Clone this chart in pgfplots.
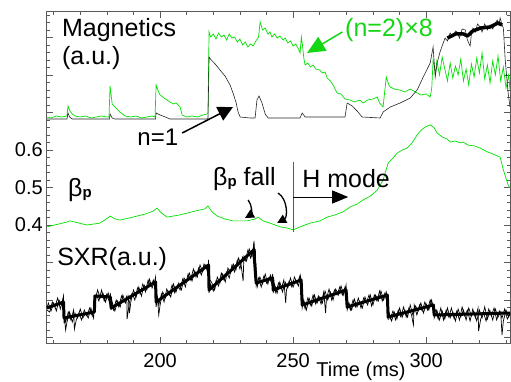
\documentclass[border=0pt]{standalone}
\usepackage{fontspec}
\setmainfont{Liberation Sans}
\usepackage{pgfplots}
\pgfplotsset{compat=1.18}
\usetikzlibrary{arrows.meta}
\definecolor{mgreen}{RGB}{0,225,0}
\definecolor{tgreen}{RGB}{20,215,20}
\definecolor{frame}{RGB}{90,90,90}
\newcommand{\ann}{\fontsize{25}{30}\selectfont}
\begin{document}
\begin{tikzpicture}[x=1pt,y=1pt]
\begin{axis}[
  at={(0,0)}, anchor=south west,
  scale only axis, width=463pt, height=331pt,
  xmin=157.5, xmax=331.5, ymin=0.0853, ymax=0.968,
  xtick={200,250,300},
  minor xtick={160,170,...,330},
  ytick={0.4,0.5,0.6},
  yticklabels={0.4,0.5,0.6},
  extra y ticks={0.1,0.2,0.3,0.7,0.8,0.9},
  extra y tick labels={},
  minor ytick={0.1,0.12,...,0.96},
  tick align=inside,
  major tick length=6pt, minor tick length=3pt,
  axis line style={frame, line width=1pt},
  tick style={frame, line width=0.7pt},
  tick label style={font=\fontsize{20}{24}\selectfont},
  /pgf/number format/assume math mode=true,
  xticklabel style={inner ysep=0pt, yshift=-10pt},
  yticklabel style={inner xsep=0pt, xshift=-4pt},
  clip=false,
]
% beta_p
\addplot[mgreen, line width=0.7pt] coordinates {
(157.5,0.395) (165.0,0.408) (166.1,0.411) (172.5,0.400) (177.4,0.405) (180.4,0.419)
(181.2,0.424) (183.1,0.416) (184.9,0.413) (189.8,0.421) (194.3,0.429) (197.4,0.437)
(198.9,0.445) (200.0,0.435) (202.6,0.421) (207.5,0.427) (213.1,0.437) (216.9,0.443)
(218.0,0.451) (219.5,0.435) (221.4,0.424) (224.4,0.416) (227.4,0.411) (232.7,0.411)
(235.7,0.416) (236.8,0.421) (238.7,0.411) (242.1,0.403) (245.1,0.395) (247.7,0.392)
(250.0,0.387) (252.6,0.395) (256.4,0.405) (260.1,0.411) (262.8,0.421) (265.8,0.427)
(268.8,0.435) (271.4,0.448) (274.1,0.456) (276.3,0.467) (279.0,0.477) (281.6,0.493)
(283.8,0.520) (285.7,0.565) (287.6,0.579) (289.1,0.592) (291.0,0.600) (292.8,0.605)
(294.7,0.619) (296.6,0.640) (298.1,0.653) (299.6,0.661) (301.5,0.667) (303.0,0.659)
(304.1,0.645) (306.0,0.635) (307.9,0.629) (309.0,0.621) (310.9,0.624) (312.8,0.619)
(313.9,0.621) (315.8,0.613) (318.1,0.611) (320.3,0.605) (323.0,0.595) (325.2,0.589)
(327.8,0.581) (329.0,0.547) (330.8,0.507) (331.5,0.499)
};
\end{axis}

\begin{axis}[
  at={(0,0)}, anchor=south west,
  scale only axis, width=463pt, height=331pt,
  xmin=157.5, xmax=331.5, ymin=0, ymax=331,
  hide axis, clip=false,
]
% magnetics n=2 (x8)
\addplot[mgreen, line width=0.7pt] coordinates {
(157.5,226) (159,225) (161,227) (163,226) (165,227) (165.4,237) (166.1,232) (167,229)
(168,227) (170,226) (172,227) (174,225) (176,226) (178,227) (180,226) (180.8,226)
(181.2,257) (182,239) (183.4,235) (184.9,231) (186.8,227) (189,226) (191,227) (193,225)
(195,226) (197,227) (198.1,226) (198.5,258) (199.3,252) (200,248) (202,244) (203.7,241)
(205,239) (206,240) (207.5,236) (208.3,228) (210,226) (212,227) (214,226) (216,228)
(217.6,229) (218,230) (218.4,311) (219,306) (220,309) (221,304) (222,310) (223,306)
(224,308) (225,303) (226,309) (227,305) (228,306) (229,301) (230,304) (231,298)
(232,301) (233,296) (234,299) (235,297) (236,302) (237,306) (237.6,321) (238.5,313)
(239.5,315) (240.5,309) (241.3,311) (242,306) (243,309) (244,305) (245,307) (246.2,303)
(247,305) (248,300) (249,302) (250,297) (251,299) (252,294) (252.6,290) (253.1,306)
(253.5,298) (254,285) (254.5,278) (255.5,280) (256.5,276) (257.5,278) (258.5,274)
(260,273) (261,270) (262,271) (262.8,265) (264,262) (265,258) (266.5,250) (268,249)
(269.5,244) (271.4,243) (273,241) (275,243) (276.3,240) (278,243) (280,244) (281.6,246)
(282.5,240) (283.8,236) (285,266) (286,258) (286.5,256) (288,254) (290,253) (292,251)
(294,254) (296.6,250) (298,248) (300,249) (301.5,246) (302.1,255) (302.6,283) (303.5,270)
(304,282) (305,268) (306,286) (307,274) (308,262) (309,280) (310,265) (311,277)
(312,268) (313,284) (314,262) (315,274) (316,258) (317,279) (318,266) (319,285)
(320,270) (321,290) (322,264) (323,278) (324,260) (325,282) (326,268) (327,287)
(328,262) (329,276) (330,255) (331,268) (331.5,253)
};
% magnetics n=1
\addplot[black!85, line width=0.6pt] coordinates {
(157.5,224) (165,224) (165.4,230) (166,226) (167,224) (181,224) (181.2,229) (182,225)
(183,224) (198.3,224) (198.5,230) (200,228) (202,226) (203.7,224) (218,224) (218.4,286)
(219.2,283) (220.7,279) (222.5,273) (224.4,267) (226.3,258) (227.4,250) (228.6,240)
(229.3,231) (230.1,226) (233.8,225) (235.7,225) (236.4,243) (237.2,247) (238.3,240)
(239.5,229) (240.6,225) (252.6,225) (253.4,230) (254.5,226) (269.5,226) (270.3,240)
(272.2,237) (274.4,231) (275.9,226) (282.7,225) (283.8,231) (286.5,236) (290.2,240)
(294,245) (296.6,253) (298.9,266) (301.5,280) (302.6,296) (303.4,266) (304.1,280)
(305.2,291) (306,297) (307.1,305) (308,302) (309,310) (310,306) (311,312) (311.6,311)
(312.5,305) (313.5,314) (314.7,313) (315.5,303) (316.5,297) (317,309) (317.6,315)
(318.5,311) (319.3,319) (320.3,316) (321,311) (322,319) (323,313) (324,318) (325,314)
(326,320) (326.7,323) (327.3,318) (327.8,325) (328.4,319) (329,315) (329.7,283)
(330.8,250) (331.5,236)
};
% magnetics n=1, dense core of the noisy band
\addplot[black, line width=3.5pt, line join=round] coordinates {
(308,305) (311,309) (314,309) (315.5,307) (317.5,312) (320.5,315) (324,316) (327,320) (328.5,318)
};
% SXR core
\addplot[black, line width=3pt, line join=round] coordinates {
(157.5,35) (163.7,41) (163.9,25) (175.3,31) (175.5,47) (181.3,46) (181.6,35) (198.3,61)
(198.5,41) (218.2,78) (218.4,53) (235.2,93) (236.1,60) (242.3,65) (242.5,53) (253.0,63)
(253.4,38) (269.9,53) (270.3,36) (285.4,48) (285.7,26) (302.7,38) (303.0,28) (331.5,30)
};
% SXR samples (a)
\addplot[black, line width=0.7pt] coordinates {
(157.5,35) (158,40) (159,32) (160,40) (161,32) (162,43) (163,38) (163.7,47) (163.9,20)
(164,27) (164.5,13) (165,21) (166,31) (167,21) (168,30) (169,25) (170,34) (171,25)
(172,30) (173,25) (174,35) (175,25) (175.3,36) (175.5,44) (176,49) (177,42) (178,53)
(179,42) (180,49) (181,40) (181.3,50) (181.6,33) (182,41) (183,32) (184,42) (185,36)
(186,48) (187,40) (188,47) (188.5,30) (189,41) (190,53) (191,46) (192,56) (193,47)
(194,58) (195,53) (196,64) (197,55) (198,62) (198.3,66) (198.5,36) (199,46) (199.5,28)
(200,38) (201,51) (202,45) (203,52) (204,46) (205,59) (206,51) (207,60) (208,53)
(209,65) (210,61) (211,70) (212,62) (213,72) (214,66) (215,78) (216,71) (217,78)
(218,72) (218.2,83) (218.4,50) (219,59) (220,52) (221,62) (222,57) (223,70) (224,63)
(225,71) (226,65) (227,78) (228,71) (229,83) (230,74) (231,86) (232,82) (233,93)
(234,85) (235,95) (235.3,102) (235.6,88) (235.8,94) (236.1,57) (237,65) (238,56)
(239,67) (240,60) (241,66) (242,59) (242.3,69) (242.5,50) (243,59) (244,50) (245,61)
(246,51) (247,61) (248,55) (249,65) (250,56) (251,63) (252,57) (252.8,67) (253.0,59)
(253.4,35) (254,43) (255,33) (256,45) (257,37) (258,48) (259,40) (260,46) (261,40)
(262,52) (263,43) (264,51) (265,43) (266,54) (267,48) (268,57) (269,48) (269.9,58)
(270.3,33) (271,40) (272,33) (273,44) (274,36) (275,42) (276,35) (277,46) (278,38)
(279,48) (280,38) (281,48) (282,42) (283,52) (284,43) (285,51) (285.4,44) (285.7,23)
(286,31) (287,22) (288,31) (289,24) (290,35) (291,26) (292,33) (293,26) (294,38)
(295,28) (296,37) (297,32) (298,40) (299,30) (300,39) (301,33) (302,43) (302.7,36)
(303.0,25) (304,33) (305,23) (306,32) (307,24) (308,35) (309,25) (310,31) (311,22)
(312,34) (313,26) (314,33) (315,23) (316,35) (317,27) (318,31) (319,22) (320,33)
(321,25) (322,36) (323,24) (324,32) (325,23) (326,34) (327,26) (328,31) (328.5,8)
(329,22) (330,33) (331,26) (331.5,30)
};
% SXR samples (b)
\addplot[black, line width=0.7pt] coordinates {
(157.5,33) (158.5,31) (159.5,41) (160.5,36) (161.5,45) (162.5,34) (163.5,44) (163.8,30)
(164.5,21) (165.5,31) (166.5,23) (167.5,33) (167.8,14) (168.5,23) (169.5,30) (170.5,23)
(171.5,33) (172.5,27) (173.5,35) (174.5,27) (175.4,40) (176.5,53) (177.5,45) (178.5,50)
(179.5,41) (180.5,50) (181.45,40) (182.5,33) (183.5,43) (184.5,36) (185.5,47) (186.5,41)
(187.5,47) (187.6,24) (188.5,41) (189.5,50) (190.5,43) (191.5,55) (192.5,49) (193.5,59)
(194.5,51) (195.5,63) (196.5,57) (197.5,63) (198.4,50) (199.5,38) (200.5,49) (201.5,41)
(202.5,54) (203.5,48) (204.5,58) (205.5,50) (206.5,58) (207.5,53) (208.5,64) (209.5,56)
(210.5,69) (211.5,63) (212.5,74) (213.5,66) (214.5,75) (215.5,68) (216.5,79) (217.5,74)
(218.3,65) (219.5,60) (220.5,53) (221.5,66) (222.5,60) (223.5,69) (224.5,61) (225.5,75)
(226.5,70) (227.5,79) (228.5,73) (229.5,85) (230.5,77) (231.2,62) (231.5,87) (232.5,82)
(233.5,94) (234.5,86) (235.2,97) (235.9,80) (236.5,56) (237.5,66) (238.5,59) (239.5,69)
(240.5,59) (241.5,68) (242.4,60) (243.5,50) (244.5,60) (245.5,54) (246.5,63) (247.2,40)
(247.5,53) (248.5,62) (249.5,56) (250.5,66) (251.5,59) (252.5,67) (253.2,50) (254.5,34)
(255.5,45) (256.5,38) (257.5,48) (258.5,39) (259.5,47) (260.5,39) (261.5,51) (262.2,30)
(262.5,44) (263.5,54) (264.5,43) (265.5,53) (266.5,48) (267.5,56) (268.5,48) (269.5,56)
(270.1,45) (271.5,33) (272.5,43) (273.5,36) (274.5,45) (275.5,35) (276.5,45) (277.5,40)
(278.5,48) (279.5,37) (280.5,48) (281.5,42) (282.5,52) (283.5,42) (284.5,50) (285.55,36)
(286.5,24) (287.5,32) (288.5,23) (289.5,33) (290.5,26) (291.5,36) (292.5,26) (293.5,35)
(294.5,28) (295.2,18) (295.5,38) (296.5,28) (297.5,38) (298.5,32) (299.5,41) (300.5,33)
(301.5,43) (302.5,35) (302.85,30) (303.5,33) (304.5,24) (305.5,35) (306.5,23) (307.5,33)
(308.5,26) (309.5,35) (310.5,24) (311.5,32) (312.5,23) (313.5,36) (314.5,27) (315.5,33)
(316.5,22) (317.5,34) (318.5,25) (319.5,35) (319.7,12) (320.5,24) (321.5,31) (322.5,22)
(323.5,34) (324.5,27) (325.5,35) (326.5,23) (327.5,32) (328.5,25) (329.5,34) (330.5,24)
(331.5,29)
};
% annotations
\node[anchor=base west, font=\ann, inner sep=0pt] at (axis cs:163.1,306) {Magnetics};
\node[anchor=base west, font=\ann, inner sep=0pt] at (axis cs:163.1,279) {(a.u.)};
\node[anchor=base west, font=\ann, inner sep=0pt, text=tgreen] at (axis cs:269.5,306) {(n=2)×8};
\draw[tgreen, line width=1.5pt, -{Triangle[length=18pt,width=16pt]}] (axis cs:268.5,311) -- (axis cs:255.2,290);
\node[anchor=base west, font=\fontsize{24}{28}\selectfont, inner sep=0pt] at (axis cs:191.4,198) {n=1};
\draw[black, line width=1.5pt, -{Triangle[length=15pt,width=15pt]}] (axis cs:208.3,210) -- (axis cs:227.4,236);
\node[anchor=base west, font=\ann, inner sep=0pt] at (axis cs:165.4,147) {β\raisebox{-1pt}{\fontsize{15}{15}\selectfont\bfseries p}};
\node[anchor=base west, font=\ann, inner sep=0pt] at (axis cs:219.9,158) {β\raisebox{-1pt}{\fontsize{15}{15}\selectfont\bfseries p} fall};
\draw[black, line width=1.3pt, -{Triangle[length=9pt,width=9pt]}] (axis cs:233.1,143) to[bend left=50] (axis cs:231.9,125);
\draw[black, line width=1.3pt, -{Triangle[length=9pt,width=9pt]}] (axis cs:244.3,150) to[bend left=60] (axis cs:244.0,120);
\draw[frame, line width=1pt] (axis cs:250,181) -- (axis cs:250,111);
\draw[black, line width=1pt, -{Triangle[length=16pt,width=13pt]}] (axis cs:250,146) -- (axis cs:270.7,146);
\node[anchor=base west, font=\ann, inner sep=0pt] at (axis cs:253.4,156) {H mode};
\node[anchor=base west, font=\ann, inner sep=0pt] at (axis cs:161.3,78) {SXR(a.u.)};
\node[anchor=base, font=\fontsize{20}{24}\selectfont, inner sep=0pt] at (axis cs:275.5,-33) {Time (ms)};
\end{axis}
\pgfresetboundingbox
\path[use as bounding box] (-47pt,-38pt) rectangle (464pt,343pt);
\end{tikzpicture}
\end{document}
